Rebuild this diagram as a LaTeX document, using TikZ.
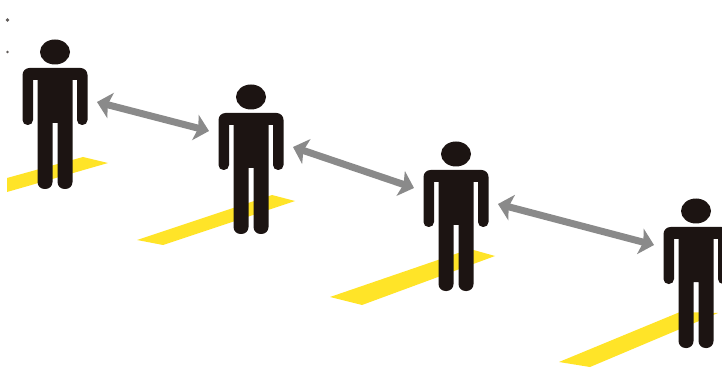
\documentclass[tikz,border=0pt]{standalone}
\usepackage{tikz}
\usepackage{xcolor}
\usetikzlibrary{arrows.meta}
\definecolor{c1}{RGB}{28,20,18}
\definecolor{c2}{RGB}{255,228,40}
\definecolor{c3}{RGB}{138,138,138}

\tikzset{
  strip/.style={fill=c2,draw=none},
  link/.style={draw=c3,line width=7pt,
        {Stealth[length=14pt,width=26pt,inset=3pt]}-{Stealth[length=14pt,width=26pt,inset=3pt]}},
  person/.pic={
    \fill[c1] (0,0) ellipse [x radius=15,y radius=12.5];
    \fill[c1] (-22,28) [rounded corners=5pt] -- (-22,73) -- (-32.5,73)
      [rounded corners=7pt] -- (-32.5,16) -- (32.5,16)
      [rounded corners=5pt] -- (32.5,73) -- (22,73)
      [sharp corners] -- (22,28) -- (17.5,28)
      [rounded corners=7pt] -- (17.5,137) -- (2.5,137)
      [sharp corners] -- (2.5,71) -- (-2.5,71)
      [rounded corners=7pt] -- (-2.5,137) -- (-17.5,137)
      [sharp corners] -- (-17.5,28) -- cycle;
    \coordinate (-left) at (-42,34);
    \coordinate (-right) at (42,50);
  }
}

\begin{document}
\begin{tikzpicture}[x=1pt,y=-1pt]
  \useasboundingbox (0,0) rectangle (722,371);
  \clip (0,0) rectangle (722,371);
  \fill[white] (0,0) rectangle (722,371);

  % specks at the left edge
  \fill[c1!70] (7.5,20) circle (1.8);
  \fill[c1!70] (7.5,52) circle (1.4);

  % floor marks
  \fill[strip] (7,178) -- (83,157) -- (108,163) -- (7,192) -- cycle;
  \fill[strip] (137,240) -- (272,195) -- (295,201) -- (163,245) -- cycle;
  \fill[strip] (330,297) -- (470,249) -- (495,256) -- (362,305) -- cycle;
  \fill[strip] (559,362) -- (680,312) -- (718,313) -- (590,367) -- cycle;

  \pic (p1) at (55,52) {person};
  \pic (p2) at (251,97) {person};
  \pic (p3) at (456,154) {person};
  \pic (p4) at (696,211) {person};

  \draw[link] (p1-right) -- (p2-left);
  \draw[link] (p2-right) -- (p3-left);
  \draw[link] (p3-right) -- (p4-left);
\end{tikzpicture}
\end{document}
